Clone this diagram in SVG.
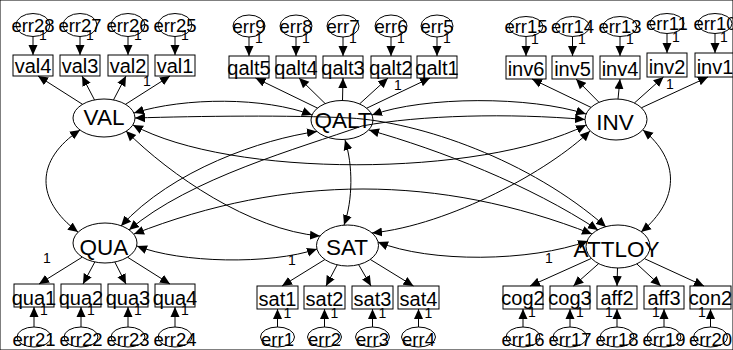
<svg xmlns="http://www.w3.org/2000/svg" width="733" height="350" viewBox="0 0 733 350">
<defs>
<marker id="ah" viewBox="0 0 10 10" refX="10" refY="5" markerWidth="10" markerHeight="10" markerUnits="userSpaceOnUse" orient="auto-start-reverse"><path d="M0,0.5 L10,5 L0,9.5 z" fill="#000"/></marker>
<style>
text{font-family:"Liberation Sans",Arial,sans-serif;fill:#000;text-anchor:middle}
.lt{font-size:22.5px}
.bt{font-size:20px}
.et{font-size:18.5px}
.one{font-size:14px}
ellipse,rect{fill:none;stroke:#000;stroke-width:1}
.e{fill:none;stroke:#000;stroke-width:1;marker-end:url(#ah)}
.c{fill:none;stroke:#000;stroke-width:1;marker-start:url(#ah);marker-end:url(#ah)}
</style>
</defs>
<rect x="0" y="0" width="733" height="350" fill="#fff" stroke="none"/>

<g id="connectors">
<!-- covariances -->
<path class="c" d="M134,113 C185,97 265,97 312,115"/>
<path class="c" d="M372,115 C425,96 530,96 586,114"/>
<path class="c" d="M135,118 C200,116 290,115 350,118 C420,122 530,160 606,227"/>
<path class="c" d="M369,130 C440,150 530,185 598,230"/>
<path class="c" d="M585,119.5 C510,113 420,115 362,126 C300,148 190,178 129,230"/>
<path class="c" d="M317,131.5 C262,139 172,170 121,226"/>
<path class="c" d="M126,131 C170,175 250,230 320,236"/>
<path class="c" d="M590,131 C550,170 450,225 372,233"/>
<path class="c" d="M133,125 C230,178 480,178 586,125"/>
<path class="c" d="M80,130 C35,160 35,200 78,232"/>
<path class="c" d="M643,130 C680,160 680,200 641,232"/>
<path class="c" d="M345,140 C353,165 353,200 344,225"/>
<path class="c" d="M137,246 C180,263 270,265 317,249"/>
<path class="c" d="M378,242 C430,263 530,262 588,241"/>
<path class="c" d="M134,234 C287,174 439,174 592,234"/>
<!-- loadings -->
<path class="e" d="M82.5,104.3 L38,76"/>
<path class="e" d="M94.5,99.9 L82,76"/>
<path class="e" d="M113.5,99.9 L126,76"/>
<path class="e" d="M125.5,104.3 L170,76"/>
<path class="e" d="M317.5,108.1 L255.5,78"/>
<path class="e" d="M325.2,103.6 L299,78"/>
<path class="e" d="M342.5,100.5 L343,78"/>
<path class="e" d="M359.6,103.9 L388,78"/>
<path class="e" d="M366.7,108.2 L430,78"/>
<path class="e" d="M591,107.4 L532,79"/>
<path class="e" d="M599,102.3 L576,79"/>
<path class="e" d="M618,99 L620,79"/>
<path class="e" d="M634.4,103 L663.5,77"/>
<path class="e" d="M641.4,107.8 L708,77"/>
<path class="e" d="M82.3,257.1 L39,284"/>
<path class="e" d="M94.8,262 L83,284"/>
<path class="e" d="M114.8,262 L126,284"/>
<path class="e" d="M127.5,257.2 L170,284"/>
<path class="e" d="M324.9,259.5 L282,286"/>
<path class="e" d="M337.2,264.8 L326,286"/>
<path class="e" d="M358.6,264.6 L371,286"/>
<path class="e" d="M370.2,259.4 L413.5,286"/>
<path class="e" d="M591.4,258.4 L530,286"/>
<path class="e" d="M598.7,263.6 L573.4,286"/>
<path class="e" d="M617.5,268 L617,286"/>
<path class="e" d="M636.8,263.9 L660.8,286"/>
<path class="e" d="M644.4,258.6 L704,286"/>
<!-- errors -->
<path class="e" d="M33,36.5 V55"/>
<path class="e" d="M80,36.5 V55"/>
<path class="e" d="M128,36.5 V55"/>
<path class="e" d="M175,36.5 V55"/>
<path class="e" d="M249,37 V56"/>
<path class="e" d="M296,37 V56"/>
<path class="e" d="M343,37 V56"/>
<path class="e" d="M391,37 V56"/>
<path class="e" d="M437,37 V56"/>
<path class="e" d="M526,36.5 V56"/>
<path class="e" d="M572.5,36.5 V56"/>
<path class="e" d="M620,36.5 V56"/>
<path class="e" d="M667,33.5 V53"/>
<path class="e" d="M715,33.5 V53"/>
<path class="e" d="M34,327 V307"/>
<path class="e" d="M81,327 V307"/>
<path class="e" d="M128,327 V307"/>
<path class="e" d="M175,327 V307"/>
<path class="e" d="M277.5,327 V309"/>
<path class="e" d="M324.5,327 V309"/>
<path class="e" d="M372.5,327 V309"/>
<path class="e" d="M418.5,327 V309"/>
<path class="e" d="M523,327 V309"/>
<path class="e" d="M570,327 V309"/>
<path class="e" d="M617,327 V309"/>
<path class="e" d="M664,327 V309"/>
<path class="e" d="M710.5,327 V309"/>
</g>

<g id="labels1" class="one">
<text class="one" x="43" y="40">1</text><text class="one" x="90" y="40">1</text><text class="one" x="138" y="40">1</text><text class="one" x="185" y="40">1</text>
<text class="one" x="259" y="43">1</text><text class="one" x="306" y="43">1</text><text class="one" x="353" y="43">1</text><text class="one" x="401" y="43">1</text><text class="one" x="447" y="43">1</text>
<text class="one" x="535" y="44">1</text><text class="one" x="582" y="44">1</text><text class="one" x="630" y="44">1</text><text class="one" x="676" y="42">1</text><text class="one" x="724" y="42">1</text>
<text class="one" x="44" y="315">1</text><text class="one" x="91" y="315">1</text><text class="one" x="138" y="315">1</text><text class="one" x="185" y="315">1</text>
<text class="one" x="287.5" y="318">1</text><text class="one" x="334.5" y="318">1</text><text class="one" x="382.5" y="318">1</text><text class="one" x="428.5" y="318">1</text>
<text class="one" x="532" y="317">1</text><text class="one" x="580" y="317">1</text><text class="one" x="609" y="317">1</text><text class="one" x="656" y="317">1</text><text class="one" x="702" y="317">1</text>
<text class="one" x="147" y="86">1</text><text class="one" x="398" y="90">1</text><text class="one" x="670" y="89">1</text>
<text class="one" x="47" y="263">1</text><text class="one" x="292" y="265">1</text><text class="one" x="549" y="263">1</text>
</g>

<g id="VAL"><ellipse cx="104" cy="118" rx="31" ry="19"/><text class="lt" x="104" y="125">VAL</text></g>
<g id="QALT"><ellipse cx="342" cy="120" rx="31" ry="19.5"/><text class="lt" x="343" y="128">QALT</text></g>
<g id="INV"><ellipse cx="616" cy="119.5" rx="31" ry="20.5"/><text class="lt" x="615" y="130">INV</text></g>
<g id="QUA"><ellipse cx="105" cy="243" rx="32" ry="20"/><text class="lt" x="104" y="255">QUA</text></g>
<g id="SAT"><ellipse cx="347.5" cy="245.5" rx="31" ry="20.5"/><text class="lt" x="347" y="255">SAT</text></g>
<g id="ATTLOY"><ellipse cx="618" cy="246.5" rx="32" ry="21.5"/><text class="lt" x="616.5" y="257">ATTLOY</text></g>

<g id="val4"><rect x="13" y="55" width="40" height="21"/><text class="bt" x="33" y="73">val4</text></g>
<g id="val3"><rect x="60" y="55" width="40" height="21"/><text class="bt" x="80" y="73">val3</text></g>
<g id="val2"><rect x="108" y="55" width="40" height="21"/><text class="bt" x="128" y="73">val2</text></g>
<g id="val1"><rect x="155" y="55" width="40" height="21"/><text class="bt" x="175" y="73">val1</text></g>
<g id="qalt5"><rect x="229" y="56" width="40" height="22"/><text class="bt" x="249" y="74.5">qalt5</text></g>
<g id="qalt4"><rect x="276" y="56" width="40" height="22"/><text class="bt" x="296" y="74.5">qalt4</text></g>
<g id="qalt3"><rect x="323" y="56" width="40" height="22"/><text class="bt" x="343" y="74.5">qalt3</text></g>
<g id="qalt2"><rect x="371" y="56" width="40" height="22"/><text class="bt" x="391" y="74.5">qalt2</text></g>
<g id="qalt1"><rect x="417" y="56" width="40" height="22"/><text class="bt" x="437" y="74.5">qalt1</text></g>
<g id="inv6"><rect x="506" y="56" width="40" height="23"/><text class="bt" x="526" y="76">inv6</text></g>
<g id="inv5"><rect x="552" y="56" width="41" height="23"/><text class="bt" x="572.5" y="76">inv5</text></g>
<g id="inv4"><rect x="600" y="56" width="40" height="23"/><text class="bt" x="620" y="76">inv4</text></g>
<g id="inv2"><rect x="647" y="53" width="40" height="24"/><text class="bt" x="667" y="74">inv2</text></g>
<g id="inv1"><rect x="695" y="53" width="40" height="24"/><text class="bt" x="715" y="74">inv1</text></g>
<g id="qua1"><rect x="14" y="284" width="40" height="23"/><text class="bt" x="34" y="305">qua1</text></g>
<g id="qua2"><rect x="61" y="284" width="40" height="23"/><text class="bt" x="81" y="305">qua2</text></g>
<g id="qua3"><rect x="108" y="284" width="40" height="23"/><text class="bt" x="128" y="305">qua3</text></g>
<g id="qua4"><rect x="155" y="284" width="40" height="23"/><text class="bt" x="175" y="305">qua4</text></g>
<g id="sat1"><rect x="257" y="286" width="41" height="23"/><text class="bt" x="277.5" y="306">sat1</text></g>
<g id="sat2"><rect x="304" y="286" width="41" height="23"/><text class="bt" x="324.5" y="306">sat2</text></g>
<g id="sat3"><rect x="352" y="286" width="41" height="23"/><text class="bt" x="372.5" y="306">sat3</text></g>
<g id="sat4"><rect x="398" y="286" width="41" height="23"/><text class="bt" x="418.5" y="306">sat4</text></g>
<g id="cog2"><rect x="503" y="286" width="40" height="23"/><text class="bt" x="523" y="305">cog2</text></g>
<g id="cog3"><rect x="550" y="286" width="40" height="23"/><text class="bt" x="570" y="305">cog3</text></g>
<g id="aff2"><rect x="597" y="286" width="40" height="23"/><text class="bt" x="617" y="305">aff2</text></g>
<g id="aff3"><rect x="644" y="286" width="40" height="23"/><text class="bt" x="664" y="305">aff3</text></g>
<g id="con2"><rect x="690" y="286" width="41" height="23"/><text class="bt" x="710.5" y="305">con2</text></g>

<g id="err28"><ellipse cx="33" cy="25" rx="17" ry="11.5"/><text class="et" x="33" y="31.5">err28</text></g>
<g id="err27"><ellipse cx="80" cy="25" rx="17" ry="11.5"/><text class="et" x="80" y="31.5">err27</text></g>
<g id="err26"><ellipse cx="128" cy="25" rx="17" ry="11.5"/><text class="et" x="128" y="31.5">err26</text></g>
<g id="err25"><ellipse cx="175" cy="25" rx="17" ry="11.5"/><text class="et" x="175" y="31.5">err25</text></g>
<g id="err9"><ellipse cx="249" cy="26" rx="16" ry="11"/><text class="et" x="249" y="32.5">err9</text></g>
<g id="err8"><ellipse cx="296" cy="26" rx="16" ry="11"/><text class="et" x="296" y="32.5">err8</text></g>
<g id="err7"><ellipse cx="343" cy="26" rx="16" ry="11"/><text class="et" x="343" y="32.5">err7</text></g>
<g id="err6"><ellipse cx="391" cy="26" rx="16" ry="11"/><text class="et" x="391" y="32.5">err6</text></g>
<g id="err5"><ellipse cx="437" cy="26" rx="16" ry="11"/><text class="et" x="437" y="32.5">err5</text></g>
<g id="err15"><ellipse cx="526" cy="26.5" rx="17" ry="10"/><text class="et" x="526" y="33">err15</text></g>
<g id="err14"><ellipse cx="572.5" cy="26.5" rx="17" ry="10"/><text class="et" x="572.5" y="33">err14</text></g>
<g id="err13"><ellipse cx="620" cy="26.5" rx="17" ry="10"/><text class="et" x="620" y="33">err13</text></g>
<g id="err11"><ellipse cx="667" cy="23.5" rx="17" ry="10"/><text class="et" x="667" y="30">err11</text></g>
<g id="err10"><ellipse cx="715" cy="23.5" rx="17" ry="10"/><text class="et" x="715" y="30">err10</text></g>
<g id="err21"><ellipse cx="34" cy="337" rx="17" ry="10"/><text class="et" x="34" y="346">err21</text></g>
<g id="err22"><ellipse cx="81" cy="337" rx="17" ry="10"/><text class="et" x="81" y="346">err22</text></g>
<g id="err23"><ellipse cx="128" cy="337" rx="17" ry="10"/><text class="et" x="128" y="346">err23</text></g>
<g id="err24"><ellipse cx="175" cy="337" rx="17" ry="10"/><text class="et" x="175" y="346">err24</text></g>
<g id="err1"><ellipse cx="277.5" cy="337" rx="17" ry="10"/><text class="et" x="277.5" y="346">err1</text></g>
<g id="err2"><ellipse cx="324.5" cy="337" rx="17" ry="10"/><text class="et" x="324.5" y="346">err2</text></g>
<g id="err3"><ellipse cx="372.5" cy="337" rx="17" ry="10"/><text class="et" x="372.5" y="346">err3</text></g>
<g id="err4"><ellipse cx="418.5" cy="337" rx="17" ry="10"/><text class="et" x="418.5" y="346">err4</text></g>
<g id="err16"><ellipse cx="523" cy="337" rx="17" ry="10"/><text class="et" x="523" y="346">err16</text></g>
<g id="err17"><ellipse cx="570" cy="337" rx="17" ry="10"/><text class="et" x="570" y="346">err17</text></g>
<g id="err18"><ellipse cx="617" cy="337" rx="17" ry="10"/><text class="et" x="617" y="346">err18</text></g>
<g id="err19"><ellipse cx="664" cy="337" rx="17" ry="10"/><text class="et" x="664" y="346">err19</text></g>
<g id="err20"><ellipse cx="710.5" cy="337" rx="17" ry="10"/><text class="et" x="710.5" y="346">err20</text></g>
</svg>
